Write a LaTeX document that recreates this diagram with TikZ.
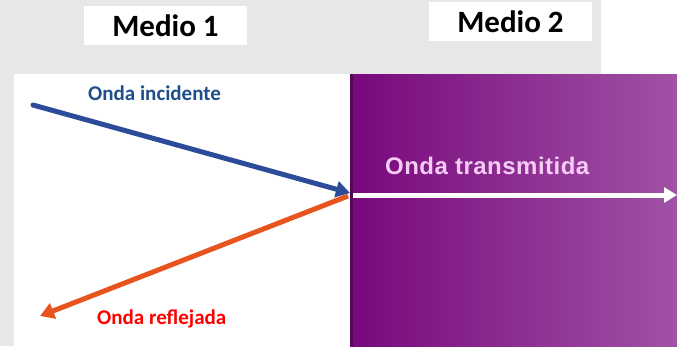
\documentclass[tikz,border=0pt]{standalone}
\usepackage{fontspec}
\setmainfont{Carlito}
\newfontfamily\heros[LetterSpace=2]{Liberation Sans}
\usetikzlibrary{arrows.meta}
\definecolor{bggray}{RGB}{231,231,231}
\definecolor{purpL}{RGB}{120,8,124}
\definecolor{purpR}{RGB}{160,82,165}
\definecolor{arrblue}{RGB}{44,76,154}
\definecolor{arrorange}{RGB}{232,84,30}
\definecolor{txtblue}{RGB}{31,78,138}
\definecolor{txtpink}{RGB}{246,204,246}
\tikzset{
  medbox/.style={fill=white, minimum width=163pt, minimum height=39pt, inner sep=0pt,
    font=\fontsize{31}{31}\selectfont\bfseries},
  wavearrow/.style={line width=5pt, -{Triangle[length=14pt,width=16pt]}},
  wavelabel/.style={anchor=base west, inner sep=0pt, font=\fontsize{21}{21}\selectfont\bfseries}
}
\begin{document}
\begin{tikzpicture}[x=1pt,y=-1pt]
\useasboundingbox (0,0) rectangle (677,346);
\fill[white] (0,0) rectangle (677,346);
\fill[bggray] (0,0) rectangle (601,346);
\fill[white] (14,74) rectangle (350,346);
\shade[left color=purpL, right color=purpR] (350,74) rectangle (677,346);
\fill[purpL!70!black] (350,74) rectangle (353,346);

\node[medbox] (m1) at (165.5,25.5) {Medio 1};
\node[medbox] (m2) at (510.5,21.5) {Medio 2};

\coordinate (incS) at (33,105);
\coordinate (O) at (350,193);
\coordinate (refS) at (348,196);
\coordinate (refE) at (40,316);
\coordinate (traS) at (353,195);
\coordinate (traE) at (677,195);

\draw[wavearrow, arrblue, line cap=round] (incS) -- (O);
\draw[wavearrow, arrorange] (refS) -- (refE);
\draw[wavearrow, white, -{Triangle[length=13pt,width=15pt]}] (traS) -- (traE);

\node[wavelabel, text=txtblue] (linc) at (88,100) {Onda incidente};
\node[wavelabel, text=red, fill=white] (lref) at (97,324) {Onda reflejada};
\node[anchor=base west, inner sep=0pt, text=txtpink, font=\heros\fontsize{24}{24}\selectfont\bfseries] (ltra) at (385,174) {Onda transmitida};
\end{tikzpicture}
\end{document}
